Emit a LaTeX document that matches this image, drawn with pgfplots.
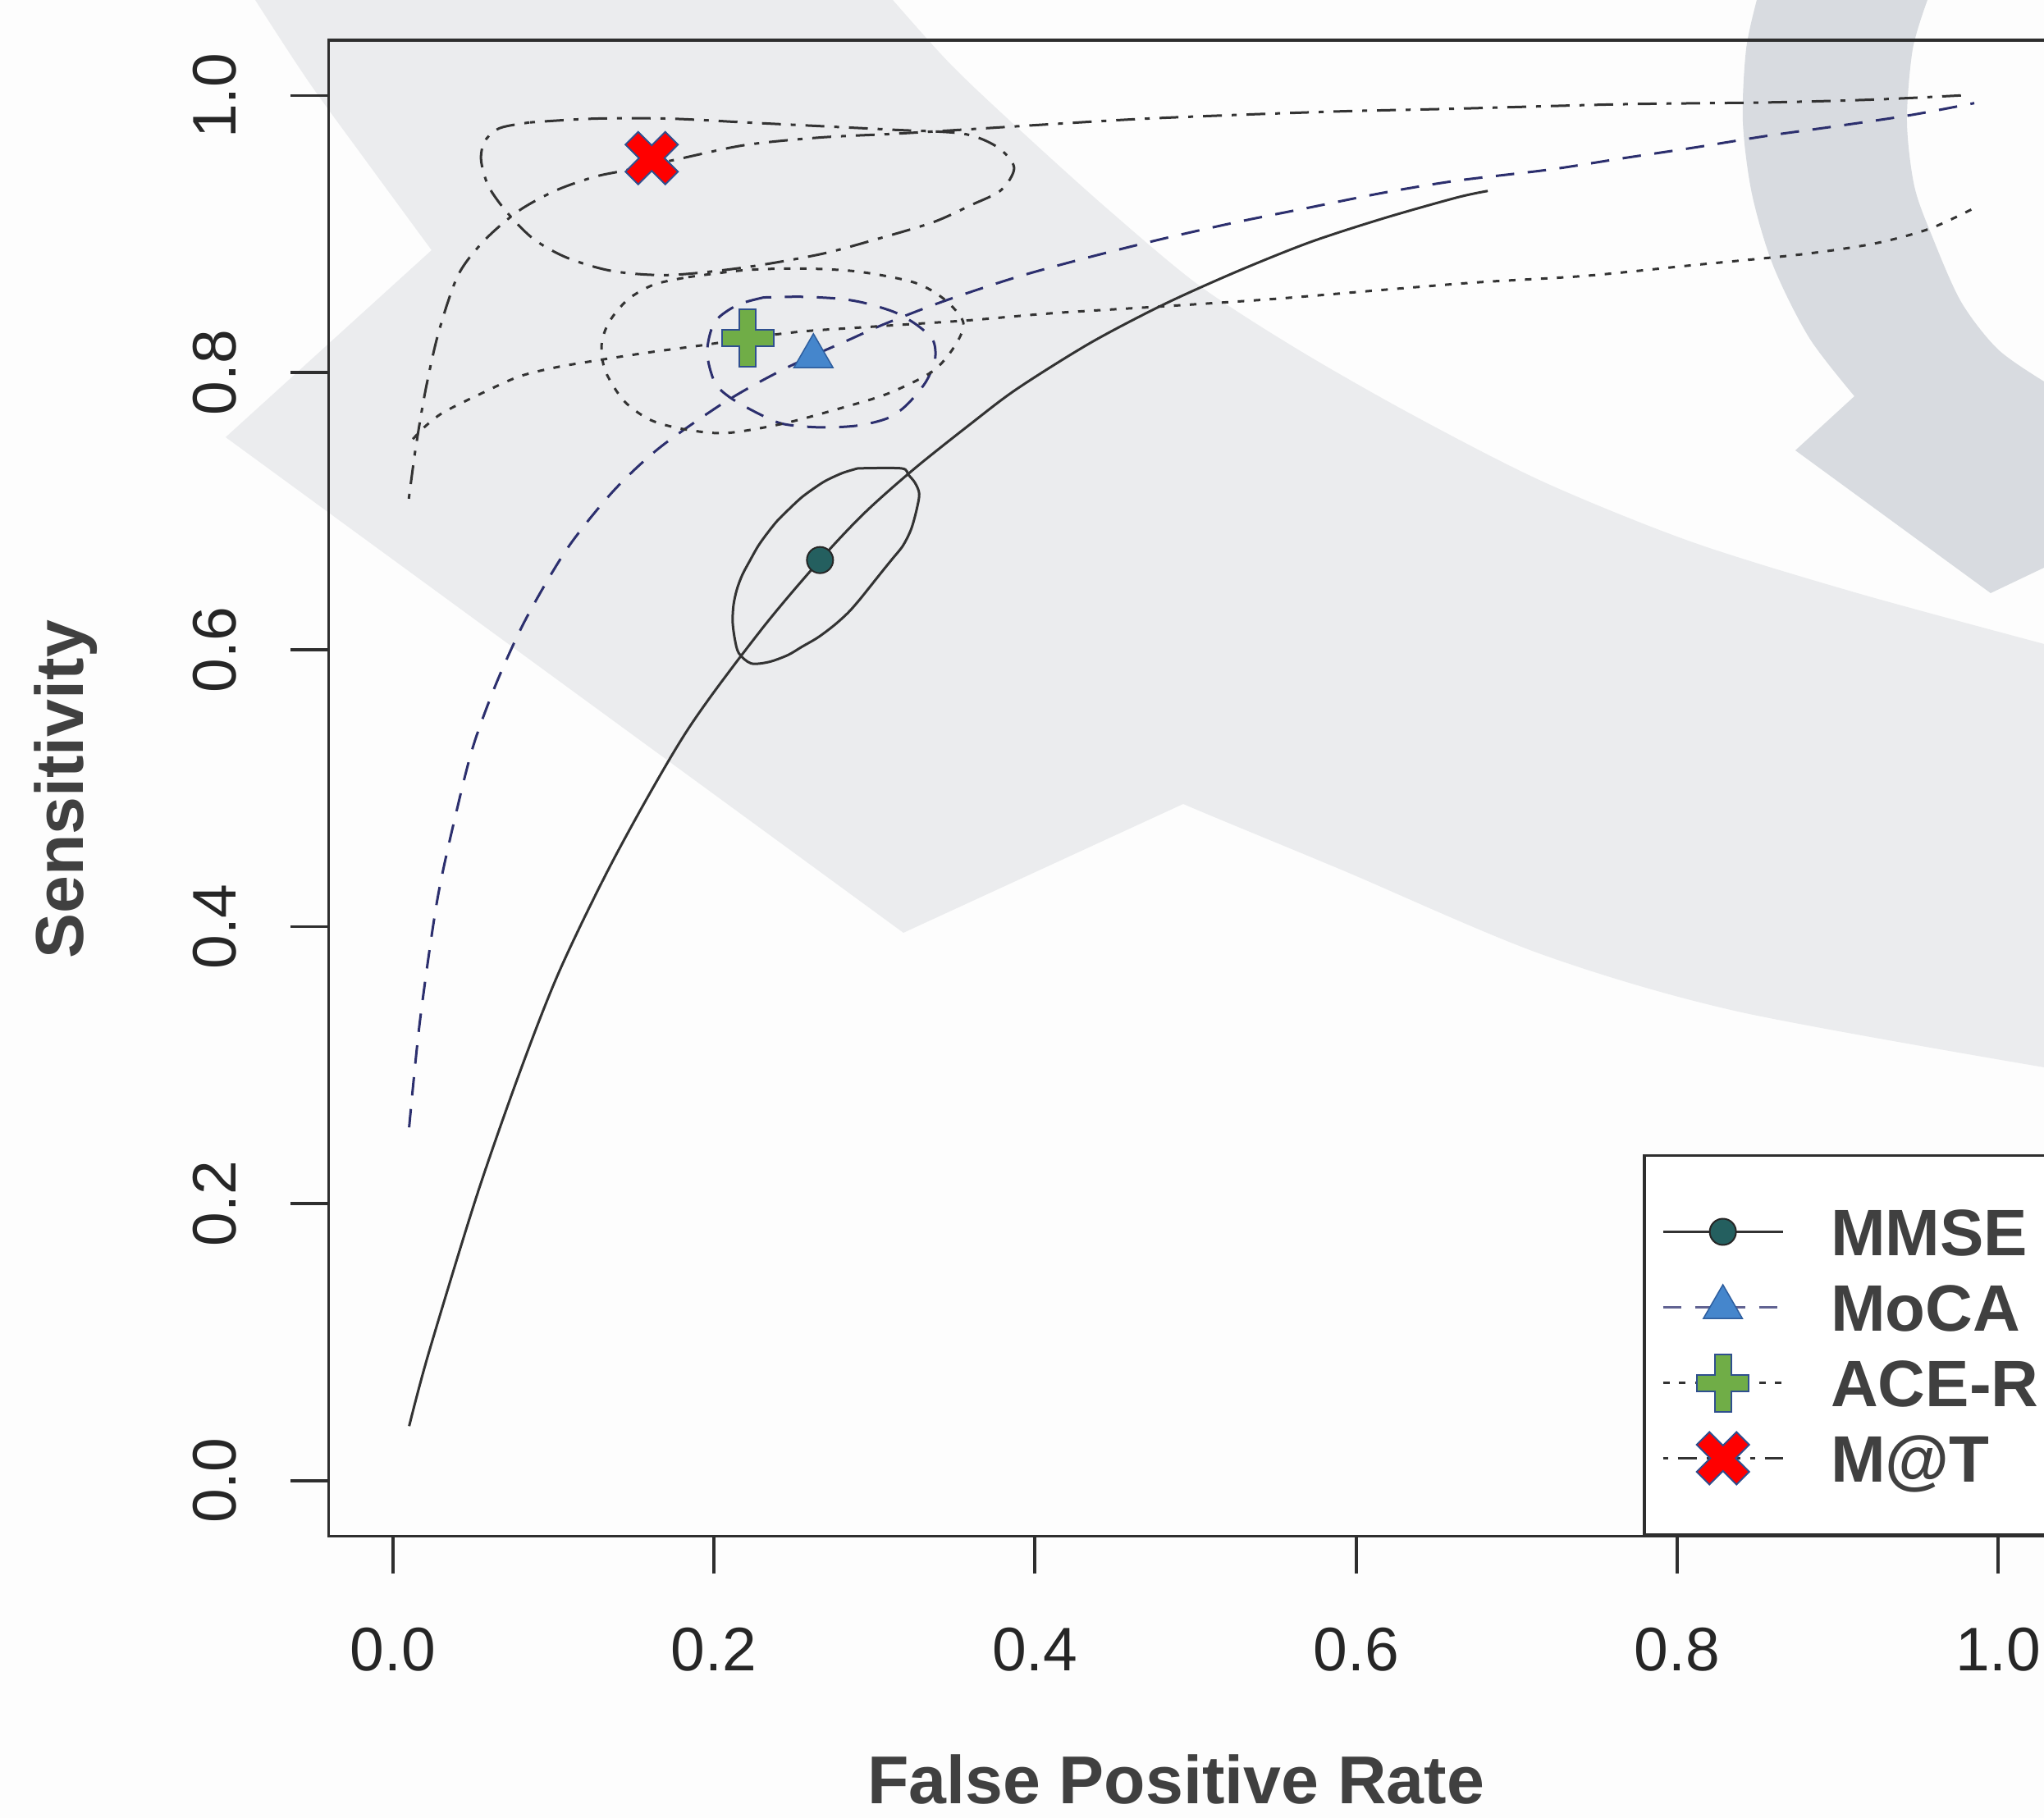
\documentclass[border=0pt]{standalone}
\usepackage{fontspec}
\setmainfont{Liberation Sans}
\usepackage{pgfplots}
\pgfplotsset{compat=1.18}
\definecolor{bgc}{HTML}{FDFDFD}
\definecolor{bandc}{HTML}{EBECEE}
\definecolor{ringc}{HTML}{D8DBE0}
\definecolor{axc}{HTML}{2E2E2E}
\definecolor{ticklc}{HTML}{262626}
\definecolor{labc}{HTML}{404040}
\definecolor{linec}{HTML}{333333}
\definecolor{navyc}{HTML}{2C2F6E}
\definecolor{tealc}{HTML}{245F5F}
\definecolor{bluec}{HTML}{4586CC}
\definecolor{bluedc}{HTML}{2E5E9E}
\definecolor{greenc}{HTML}{70AD47}
\definecolor{outc}{HTML}{2F4F8F}
\definecolor{redc}{HTML}{FF0000}

\pgfdeclareplotmark{fatplus}{%
 \pgfpathmoveto{\pgfqpoint{-2pt}{7pt}}%
 \pgfpathlineto{\pgfqpoint{2pt}{7pt}}%
 \pgfpathlineto{\pgfqpoint{2pt}{2pt}}%
 \pgfpathlineto{\pgfqpoint{6.3pt}{2pt}}%
 \pgfpathlineto{\pgfqpoint{6.3pt}{-2pt}}%
 \pgfpathlineto{\pgfqpoint{2pt}{-2pt}}%
 \pgfpathlineto{\pgfqpoint{2pt}{-7pt}}%
 \pgfpathlineto{\pgfqpoint{-2pt}{-7pt}}%
 \pgfpathlineto{\pgfqpoint{-2pt}{-2pt}}%
 \pgfpathlineto{\pgfqpoint{-6.3pt}{-2pt}}%
 \pgfpathlineto{\pgfqpoint{-6.3pt}{2pt}}%
 \pgfpathlineto{\pgfqpoint{-2pt}{2pt}}%
 \pgfpathclose
 \pgfusepathqfillstroke}

\pgfdeclareplotmark{fatx}{%
 \pgfpathmoveto{\pgfqpoint{0pt}{3.1pt}}%
 \pgfpathlineto{\pgfqpoint{3.3pt}{6.4pt}}%
 \pgfpathlineto{\pgfqpoint{6.4pt}{3.3pt}}%
 \pgfpathlineto{\pgfqpoint{3.1pt}{0pt}}%
 \pgfpathlineto{\pgfqpoint{6.4pt}{-3.3pt}}%
 \pgfpathlineto{\pgfqpoint{3.3pt}{-6.4pt}}%
 \pgfpathlineto{\pgfqpoint{0pt}{-3.1pt}}%
 \pgfpathlineto{\pgfqpoint{-3.3pt}{-6.4pt}}%
 \pgfpathlineto{\pgfqpoint{-6.4pt}{-3.3pt}}%
 \pgfpathlineto{\pgfqpoint{-3.1pt}{0pt}}%
 \pgfpathlineto{\pgfqpoint{-6.4pt}{3.3pt}}%
 \pgfpathlineto{\pgfqpoint{-3.3pt}{6.4pt}}%
 \pgfpathclose
 \pgfusepathqfillstroke}

\begin{document}
\begin{tikzpicture}
\useasboundingbox (0,0) rectangle (498.2pt,443.2pt);
\clip (0,0) rectangle (498.2pt,443.2pt);
\fill[bgc] (0,0) rectangle (498.2pt,443.2pt);
\begin{scope}[yshift=443.2pt, x=0.2pt, y=-0.2pt]
\fill[bandc] (311,0) -- (1088,0) -- plot[smooth] coordinates {(1088,0) (1160,80) (1250,165) (1350,255) (1460,347) (1580,425) (1720,505) (1880,587) (2060,660) (2260,722) (2491,785)} -- (2491,1301) -- plot[smooth] coordinates {(2491,1301) (2118,1233) (1878,1163) (1639,1062) (1487,999) (1442,980)} -- (1101,1137) -- (275,533) -- (526,305) -- plot[smooth] coordinates {(526,305) (446,196) (375,98) (311,0)} -- cycle;
\fill[ringc] plot[smooth] coordinates {(2141,0) (2128,60) (2124,148) (2135,236) (2161,324) (2205,412) (2260,483)} -- (2188,549) -- (2426,723) -- (2491,692) -- (2491,465) -- plot[smooth] coordinates {(2491,465) (2435,426) (2390,368) (2355,289) (2333,227) (2324,148) (2331,60) (2349,0)} -- cycle;
\end{scope}

\begin{axis}[
 at={(80.08pt,68.72pt)}, anchor=south west,
 scale only axis, width=422.64pt, height=364.66pt,
 xmin=-0.04, xmax=1.04, ymin=-0.04, ymax=1.04,
 axis line style={draw=axc, line width=0.75pt},
 tick align=outside, tick pos=left,
 major tick length=9.2pt,
 tick style={draw=axc, line width=0.75pt},
 xtick={0,0.2,0.4,0.6,0.8,1}, ytick={0,0.2,0.4,0.6,0.8,1},
 minor tick num=0,
 /pgf/number format/.cd, fixed, fixed zerofill, precision=1, assume math mode=true, /pgfplots/.cd,
 ticklabel style={font=\fontsize{15}{15}\selectfont, text=ticklc, inner sep=0pt},
 xticklabel style={anchor=north},
 yticklabel style={rotate=90, anchor=south},
 xticklabel shift=13pt, yticklabel shift=13pt,
 legend style={
  at={(0.7578,0)}, anchor=south west,
  draw=axc, line width=0.75pt, fill=white,
  inner xsep=4.3pt, inner ysep=9.4pt,
  font=\fontsize{16}{16}\selectfont\bfseries,
  text=labc, row sep=0pt,
  nodes={inner sep=0pt, text height=14.95pt, text depth=3.45pt},
  cells={anchor=west},
 },
 legend image code/.code={%
  \draw[mark repeat=2, mark phase=2] plot coordinates {(0pt,0pt) (14.6pt,0pt) (29.2pt,0pt)};
  \path (40.6pt,0pt);
 },
]
\addlegendimage{draw=linec, solid, line width=0.6pt, mark=*, mark size=3.2pt, mark options={solid, fill=tealc, draw=black!85, line width=0.4pt}}
\addlegendentry{MMSE}
\addlegendimage{draw=navyc!75, line width=0.6pt, dash pattern=on 4.5pt off 3.3pt, mark=triangle*, mark size=5.5pt, mark options={solid, fill=bluec, draw=bluedc, line width=0.3pt}}
\addlegendentry{MoCA}
\addlegendimage{draw=linec, line width=0.6pt, dash pattern=on 1.6pt off 2.3pt, mark=fatplus, mark options={solid, fill=greenc, draw=outc, line width=0.4pt}}
\addlegendentry{ACE-R}
\addlegendimage{draw=linec, line width=0.6pt, dash pattern=on 1.2pt off 2.4pt on 4.6pt off 2.4pt, mark=fatx, mark options={solid, fill=redc, draw=outc, line width=0.4pt}}
\addlegendentry{M@T}

% MMSE SROC curve and confidence region
\addplot[draw=linec, line width=0.6pt, smooth] coordinates {(0.0102,0.0394) (0.0224,0.0923) (0.0525,0.2064) (0.0799,0.2974) (0.1045,0.3698) (0.1392,0.4522) (0.1830,0.5410) (0.2291,0.6138) (0.2661,0.6647) (0.2938,0.6987) (0.3245,0.7303) (0.3600,0.7631) (0.3889,0.7884) (0.4345,0.8215) (0.4801,0.8492) (0.5257,0.8730) (0.5713,0.8942) (0.6170,0.9114) (0.6626,0.9264) (0.6820,0.9312)};
\addplot[draw=linec, line width=0.6pt, smooth] coordinates {(0.2896,0.7309) (0.3168,0.7309) (0.3211,0.7263) (0.3253,0.7204) (0.3279,0.7125) (0.3262,0.7007) (0.3228,0.6868) (0.3177,0.6750) (0.3109,0.6652) (0.3040,0.6553) (0.2972,0.6454) (0.2904,0.6356) (0.2836,0.6267) (0.2751,0.6178) (0.2649,0.6089) (0.2547,0.6020) (0.2461,0.5961) (0.2342,0.5911) (0.2231,0.5901) (0.2155,0.5975) (0.2130,0.6079) (0.2117,0.6200) (0.2122,0.6320) (0.2143,0.6434) (0.2177,0.6540) (0.2223,0.6640) (0.2274,0.6745) (0.2325,0.6829) (0.2393,0.6928) (0.2461,0.7007) (0.2547,0.7100) (0.2632,0.7172) (0.2700,0.7222) (0.2802,0.7276) (0.2896,0.7309)};

% MoCA
\addplot[draw=navyc, line width=0.6pt, dash pattern=on 4.5pt off 3.3pt, smooth] coordinates {(0.0102,0.2551) (0.0169,0.3317) (0.0279,0.4205) (0.0407,0.4882) (0.0507,0.5326) (0.0653,0.5780) (0.0835,0.6235) (0.1089,0.6734) (0.1371,0.7142) (0.1653,0.7450) (0.2005,0.7740) (0.2239,0.7904) (0.2497,0.8060) (0.2837,0.8235) (0.3060,0.8350) (0.3434,0.8517) (0.3889,0.8691) (0.4345,0.8836) (0.4801,0.8968) (0.5257,0.9087) (0.5713,0.9193) (0.6170,0.9299) (0.6626,0.9386) (0.7204,0.9466) (0.7655,0.9547) (0.8105,0.9625) (0.8555,0.9709) (0.9006,0.9782) (0.9456,0.9860) (0.9850,0.9946)};
\addplot[draw=navyc, line width=0.6pt, dash pattern=on 4.5pt off 3.3pt, smooth] coordinates {(0.2310,0.8543) (0.2146,0.8488) (0.2005,0.8365) (0.1958,0.8148) (0.2005,0.7931) (0.2099,0.7822) (0.2263,0.7713) (0.2427,0.7631) (0.2662,0.7605) (0.2896,0.7618) (0.3084,0.7672) (0.3201,0.7767) (0.3319,0.7931) (0.3377,0.8094) (0.3366,0.8230) (0.3272,0.8338) (0.3131,0.8434) (0.2943,0.8502) (0.2779,0.8534) (0.2540,0.8548) (0.2310,0.8543)};

% ACE-R
\addplot[draw=linec, line width=0.6pt, dash pattern=on 1.6pt off 2.3pt, smooth] coordinates {(0.0125,0.7520) (0.0200,0.7610) (0.0315,0.7713) (0.0550,0.7849) (0.0784,0.7971) (0.1019,0.8039) (0.1301,0.8094) (0.1606,0.8148) (0.1958,0.8203) (0.2211,0.8249) (0.2544,0.8297) (0.2896,0.8325) (0.3248,0.8352) (0.3600,0.8379) (0.4117,0.8430) (0.4801,0.8479) (0.5486,0.8532) (0.6170,0.8598) (0.6754,0.8652) (0.7429,0.8699) (0.8105,0.8777) (0.8780,0.8855) (0.9231,0.8933) (0.9569,0.9038) (0.9839,0.9182)};
\addplot[draw=linec, line width=0.6pt, dash pattern=on 1.6pt off 2.3pt, smooth] coordinates {(0.1841,0.8690) (0.2192,0.8740) (0.2544,0.8752) (0.2896,0.8730) (0.3248,0.8651) (0.3436,0.8529) (0.3553,0.8365) (0.3506,0.8203) (0.3365,0.8012) (0.3084,0.7849) (0.2779,0.7740) (0.2427,0.7631) (0.2075,0.7564) (0.1817,0.7591) (0.1606,0.7658) (0.1441,0.7795) (0.1324,0.8012) (0.1301,0.8203) (0.1347,0.8365) (0.1465,0.8529) (0.1629,0.8637) (0.1841,0.8690)};

% M@T
\addplot[draw=linec, line width=0.6pt, dash pattern=on 1.2pt off 2.4pt on 4.6pt off 2.4pt, smooth] coordinates {(0.0100,0.7090) (0.0143,0.7458) (0.0204,0.7873) (0.0285,0.8289) (0.0407,0.8704) (0.0570,0.8954) (0.0784,0.9168) (0.1019,0.9317) (0.1254,0.9413) (0.1441,0.9459) (0.1770,0.9540) (0.2192,0.9643) (0.2662,0.9698) (0.3131,0.9725) (0.3600,0.9758) (0.4573,0.9827) (0.5257,0.9861) (0.5942,0.9888) (0.6626,0.9906) (0.7655,0.9938) (0.8555,0.9951) (0.9231,0.9972) (0.9805,1.0004)};
\addplot[draw=linec, line width=0.6pt, dash pattern=on 1.2pt off 2.4pt on 4.6pt off 2.4pt, smooth] coordinates {(0.0855,0.9807) (0.1254,0.9834) (0.1723,0.9834) (0.2192,0.9807) (0.2662,0.9780) (0.3131,0.9753) (0.3553,0.9725) (0.3764,0.9630) (0.3870,0.9481) (0.3788,0.9317) (0.3600,0.9209) (0.3365,0.9086) (0.3014,0.8964) (0.2662,0.8855) (0.2192,0.8760) (0.1723,0.8705) (0.1371,0.8733) (0.1089,0.8828) (0.0878,0.8964) (0.0714,0.9154) (0.0597,0.9344) (0.0550,0.9535) (0.0573,0.9671) (0.0667,0.9766) (0.0855,0.9807)};

% summary points
\addplot[only marks, mark=*, mark size=3.2pt, mark options={solid, fill=tealc, draw=black!85, line width=0.4pt}] coordinates {(0.2661,0.6647)};
\addplot[only marks, mark=triangle*, mark size=5.5pt, mark options={solid, fill=bluec, draw=bluedc, line width=0.3pt}] coordinates {(0.2620,0.8118)};
\addplot[only marks, mark=fatplus, mark options={solid, fill=greenc, draw=outc, line width=0.4pt}] coordinates {(0.2211,0.8251)};
\addplot[only marks, mark=fatx, mark options={solid, fill=redc, draw=outc, line width=0.4pt}] coordinates {(0.1613,0.9549)};
\end{axis}

\node[anchor=base, font=\fontsize{16.5}{16.5}\selectfont\bfseries, text=labc, inner sep=0pt] at (286.6pt,3.5pt) {False Positive Rate};
\node[anchor=base, rotate=90, font=\fontsize{16.5}{16.5}\selectfont\bfseries, text=labc, inner sep=0pt] at (20.3pt,250.7pt) {Sensitivity};
\end{tikzpicture}
\end{document}
